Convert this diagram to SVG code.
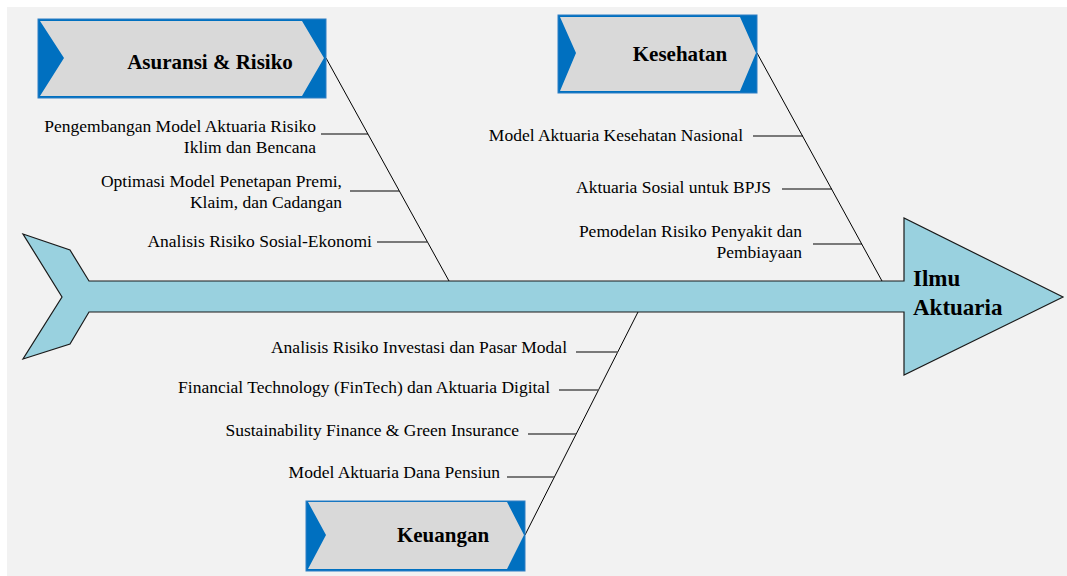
<svg xmlns="http://www.w3.org/2000/svg" width="1067" height="576" viewBox="0 0 1067 576">
  <style>
    .cat { fill: #0070c0; stroke: #2f7fc4; stroke-width: 1; }
    .chev { fill: #d9d9d9; }
    .title { font-family: "Liberation Serif", "Times New Roman", serif; font-weight: bold; font-size: 21px; fill: #000; }
    .head { font-family: "Liberation Serif", "Times New Roman", serif; font-weight: bold; font-size: 23px; fill: #000; }
    .item { font-family: "Liberation Serif", "Times New Roman", serif; font-size: 17.5px; fill: #000; text-anchor: end; }
    .bone { stroke: #000; stroke-width: 1; fill: none; }
    .rib { stroke: #000; stroke-width: 1.2; fill: none; }
    .rib2 { stroke: #505050; stroke-width: 1.6; fill: none; }
  </style>

  <!-- canvas -->
  <rect x="0" y="0" width="1067" height="576" fill="#ffffff"/>
  <rect x="7" y="7" width="1060" height="569" fill="#f2f2f2"/>

  <!-- fish spine with tail and head -->
  <g id="spine">
    <polygon points="23,234 70,250 89,281 904,281 904,218 1063,297 904,375 904,312 89,312 70,344 23,359 62,297"
             fill="#99d1df" stroke="#1a1a1a" stroke-width="1.2" stroke-linejoin="miter"/>
    <text class="head" x="913" y="286">Ilmu</text>
    <text class="head" x="913" y="315">Aktuaria</text>
  </g>

  <!-- bones and ribs -->
  <g id="connectors">
    <line class="bone" x1="326" y1="58" x2="449" y2="281"/>
    <line class="rib" x1="321" y1="134" x2="368" y2="134"/>
    <line class="rib" x1="350" y1="191" x2="399" y2="191"/>
    <line class="rib" x1="377" y1="242" x2="427" y2="242"/>

    <line class="bone" x1="757" y1="53" x2="882" y2="281"/>
    <line class="rib" x1="753" y1="136" x2="803" y2="136"/>
    <line class="rib" x1="782" y1="189" x2="832" y2="189"/>
    <line class="rib" x1="813" y1="244" x2="862" y2="244"/>

    <line class="bone" x1="525" y1="535" x2="638" y2="312"/>
    <line class="rib2" x1="576" y1="352" x2="618" y2="352"/>
    <line class="rib2" x1="559" y1="390" x2="599" y2="390"/>
    <line class="rib2" x1="528" y1="434" x2="576" y2="434"/>
    <line class="rib2" x1="507" y1="477" x2="554" y2="477"/>
  </g>

  <!-- category: Asuransi & Risiko -->
  <g id="asuransi">
    <rect class="cat" x="38" y="19" width="288" height="79"/>
    <polygon class="chev" points="40,21 302,21 324,58 302,96 40,96 64,58"/>
    <text class="title" x="210" y="69" text-anchor="middle">Asuransi &amp; Risiko</text>
    <text class="item" x="316" y="132">Pengembangan Model Aktuaria Risiko</text>
    <text class="item" x="316" y="153">Iklim dan Bencana</text>
    <text class="item" x="342" y="187">Optimasi Model Penetapan Premi,</text>
    <text class="item" x="342" y="208">Klaim, dan Cadangan</text>
    <text class="item" x="372" y="247">Analisis Risiko Sosial-Ekonomi</text>
  </g>

  <!-- category: Kesehatan -->
  <g id="kesehatan">
    <rect class="cat" x="558" y="15" width="199" height="78"/>
    <polygon class="chev" points="560,17 740,17 756,53 740,91 560,91 576,53"/>
    <text class="title" x="680" y="61" text-anchor="middle">Kesehatan</text>
    <text class="item" x="743" y="141">Model Aktuaria Kesehatan Nasional</text>
    <text class="item" x="771" y="193">Aktuaria Sosial untuk BPJS</text>
    <text class="item" x="802" y="237">Pemodelan Risiko Penyakit dan</text>
    <text class="item" x="802" y="258">Pembiayaan</text>
  </g>

  <!-- category: Keuangan -->
  <g id="keuangan">
    <rect class="cat" x="306" y="501" width="219" height="70"/>
    <polygon class="chev" points="308,502 507,502 524,535 507,569 308,569 326,535"/>
    <text class="title" x="443" y="542" text-anchor="middle">Keuangan</text>
    <text class="item" x="567" y="353">Analisis Risiko Investasi dan Pasar Modal</text>
    <text class="item" x="550" y="393">Financial Technology (FinTech) dan Aktuaria Digital</text>
    <text class="item" x="519" y="436">Sustainability Finance &amp; Green Insurance</text>
    <text class="item" x="500" y="478">Model Aktuaria Dana Pensiun</text>
  </g>
</svg>
